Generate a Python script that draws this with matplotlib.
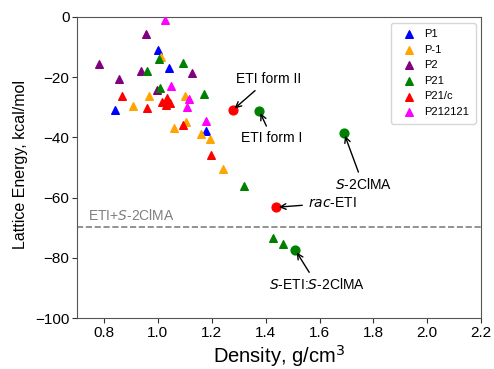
import matplotlib.pyplot as plt

plt.rcParams['font.family'] = ['Liberation Sans', 'DejaVu Sans']

# triangles: predicted structures by space group
p1_x = [1.001, 1.043, 0.840, 1.179]
p1_y = [-11.0, -16.8, -30.9, -37.8]
pm1_x = [1.011, 1.101, 0.966, 0.909, 1.104, 1.058, 1.159, 1.194, 1.243]
pm1_y = [-13.2, -26.2, -26.1, -29.5, -34.9, -37.0, -38.7, -40.6, -50.6]
p2_x = [0.956, 0.780, 1.126, 0.938, 0.856, 0.996]
p2_y = [-5.8, -15.6, -18.5, -18.0, -20.7, -24.3]
p21_x = [1.003, 1.092, 0.959, 1.007, 1.172, 1.320, 1.427, 1.464]
p21_y = [-13.9, -15.2, -17.8, -23.5, -25.7, -56.0, -73.5, -75.5]
p21c_x = [0.866, 0.961, 1.014, 1.033, 1.031, 1.045, 1.095, 1.198]
p21c_y = [-26.4, -30.3, -28.1, -27.0, -29.2, -28.5, -35.8, -46.0]
p212121_x = [1.028, 1.049, 1.116, 1.107, 1.179]
p212121_y = [-1.0, -22.8, -27.1, -30.0, -34.7]

# circles: experimental forms
red_circ_x = [1.277, 1.439]
red_circ_y = [-31.0, -63.2]
green_circ_x = [1.376, 1.691, 1.510]
green_circ_y = [-31.1, -38.6, -77.4]

eti_sum = -69.7

fig = plt.figure(figsize=(4.94, 3.69), dpi=100)
ax = fig.add_axes([0.156, 0.138, 0.818, 0.816])

groups = [(p1_x, p1_y, 'blue', 'P1'),
          (pm1_x, pm1_y, 'orange', 'P-1'),
          (p2_x, p2_y, 'purple', 'P2'),
          (p21_x, p21_y, 'green', 'P21'),
          (p21c_x, p21c_y, 'red', 'P21/c'),
          (p212121_x, p212121_y, 'magenta', 'P212121')]
for gx, gy, c, lab in groups:
    ax.scatter(gx, gy, marker='^', s=30, color=c, label=lab, zorder=3)

ax.scatter(red_circ_x, red_circ_y, marker='o', s=40, color='red', zorder=3)
ax.scatter(green_circ_x, green_circ_y, marker='o', s=40, color='green', zorder=3)

ax.axhline(eti_sum, color='gray', ls='--', lw=1.2, zorder=1)
ax.text(0.742, -65.8, 'ETI+$\\mathit{S}$-2ClMA', color='gray', fontsize=10,
        va='center', ha='left')

arrow = dict(arrowstyle='->', color='black', lw=1)
ax.annotate('ETI form II', xy=(red_circ_x[0], red_circ_y[0]), xytext=(1.41, -20.6),
            ha='center', va='center', fontsize=10, arrowprops=arrow)
ax.annotate('ETI form I', xy=(green_circ_x[0], green_circ_y[0]), xytext=(1.424, -40.3),
            ha='center', va='center', fontsize=10, arrowprops=arrow)
ax.annotate('$\\mathit{S}$-2ClMA', xy=(green_circ_x[1], green_circ_y[1]), xytext=(1.762, -55.8),
            ha='center', va='center', fontsize=10, arrowprops=arrow)
ax.annotate('$\\mathit{rac}$-ETI', xy=(red_circ_x[1], red_circ_y[1]), xytext=(1.647, -61.8),
            ha='center', va='center', fontsize=10, arrowprops=arrow)
ax.annotate('$\\mathit{S}$-ETI:$\\mathit{S}$-2ClMA', xy=(green_circ_x[2], green_circ_y[2]),
            xytext=(1.591, -89.0), ha='center', va='center', fontsize=10, arrowprops=arrow)

ax.set_xlim(0.7, 2.2)
ax.set_ylim(-100, 0)
ax.set_xticks([0.8, 1.0, 1.2, 1.4, 1.6, 1.8, 2.0, 2.2])
ax.set_yticks([0, -20, -40, -60, -80, -100])
ax.tick_params(labelsize=11, colors='#333333', labelcolor='black', pad=2)
for sp in ax.spines.values():
    sp.set_color('#555555')
ax.set_xlabel('Density, g/cm$^3$', fontsize=14.5)
ax.set_ylabel('Lattice Energy, kcal/mol', fontsize=11.5)
ax.xaxis.set_label_coords(0.5, -0.082)
ax.yaxis.set_label_coords(-0.121, 0.51)

ax.legend(loc='upper right', fontsize=8, handletextpad=0.4, borderpad=0.6,
          labelspacing=0.5, scatterpoints=1)

fig.savefig('out.png', dpi=100)
